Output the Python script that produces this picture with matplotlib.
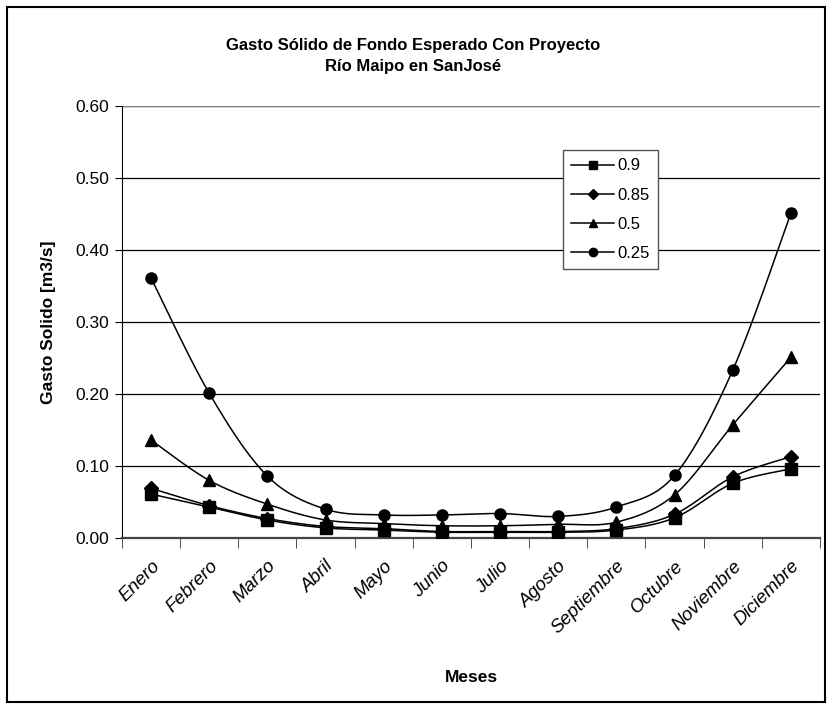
import numpy as np
import matplotlib
matplotlib.use("Agg")
import matplotlib.pyplot as plt
from matplotlib.patches import Rectangle
from matplotlib.lines import Line2D

plt.rcParams['font.family'] = ['Liberation Sans', 'DejaVu Sans']

months = ['Enero', 'Febrero', 'Marzo', 'Abril', 'Mayo', 'Junio', 'Julio',
          'Agosto', 'Septiembre', 'Octubre', 'Noviembre', 'Diciembre']

q090 = [0.061, 0.043, 0.025, 0.014, 0.011, 0.008, 0.008, 0.008, 0.011, 0.028, 0.076, 0.096]
q085 = [0.069, 0.045, 0.027, 0.016, 0.013, 0.009, 0.009, 0.009, 0.013, 0.033, 0.085, 0.113]
q050 = [0.136, 0.080, 0.047, 0.025, 0.020, 0.017, 0.017, 0.019, 0.022, 0.060, 0.157, 0.251]
q025 = [0.361, 0.201, 0.086, 0.040, 0.032, 0.032, 0.034, 0.030, 0.043, 0.087, 0.233, 0.451]

series = [('0.9', q090, 's'), ('0.85', q085, 'D'), ('0.5', q050, '^'), ('0.25', q025, 'o')]


def smooth(x, y, n=20):
    # catmull-rom style smoothing, like excel "smoothed line"
    x = np.asarray(x, float)
    y = np.asarray(y, float)
    xs, ys = [], []
    for i in range(len(x) - 1):
        p0 = (x[max(i - 1, 0)], y[max(i - 1, 0)])
        p1 = (x[i], y[i])
        p2 = (x[i + 1], y[i + 1])
        p3 = (x[min(i + 2, len(x) - 1)], y[min(i + 2, len(x) - 1)])
        t = np.linspace(0, 1, n, endpoint=False)
        for k in range(2):
            a, b, c, d = p0[k], p1[k], p2[k], p3[k]
            v = 0.5 * (2 * b + (-a + c) * t + (2 * a - 5 * b + 4 * c - d) * t**2
                       + (-a + 3 * b - 3 * c + d) * t**3)
            (xs if k == 0 else ys).append(v)
    xs.append([x[-1]])
    ys.append([y[-1]])
    return np.concatenate(xs), np.concatenate(ys)


fig = plt.figure(figsize=(8.27, 7.04), dpi=100)
ax = fig.add_axes([0.1475, 0.2358, 0.844, 0.6136])

x = np.arange(len(months))
handles = []
for name, vals, mk in series:
    sx, sy = smooth(x, vals)
    ax.plot(sx, sy, color='black', lw=1.1, zorder=3)
    ms = 7 if mk == 'D' else 8
    ax.plot(x, vals, ls='none', marker=mk, color='black', ms=ms, zorder=4)
    handles.append(Line2D([], [], color='black', lw=1.1, marker=mk,
                          ms=6 if mk != 'D' else 5.5, label=name))

ax.set_xlim(-0.5, len(months) - 0.5)
ax.set_ylim(0, 0.6)
ax.set_yticks(np.arange(0, 0.61, 0.1))
ax.set_yticklabels([f'{v:.2f}' for v in np.arange(0, 0.61, 0.1)], fontsize=12.5)
ax.set_xticks(x)
ax.set_xticklabels(months, rotation=45, ha='right', rotation_mode='anchor',
                   fontsize=13.5, style='italic')
ax.set_xticks(np.arange(-0.5, len(months)), minor=True)
ax.tick_params(axis='x', which='major', length=0, pad=14)
ax.tick_params(axis='x', which='minor', length=7, direction='out', color='#333333')
ax.tick_params(axis='y', length=5, direction='out', pad=4)

ax.yaxis.grid(True, color='black', lw=0.9)
ax.set_axisbelow(True)
for s in ['top', 'right']:
    ax.spines[s].set_visible(False)
ax.spines['left'].set_color('black')
ax.spines['bottom'].set_color('#444444')
ax.spines['bottom'].set_linewidth(1.6)
ax.axhline(0.6, color='#808080', lw=1.6, zorder=2)

ax.set_ylabel('Gasto Solido [m3/s]', fontsize=12.5, fontweight='bold', labelpad=14)
ax.set_xlabel('Meses', fontsize=12.5, fontweight='bold', labelpad=24)

fig.text(0.5, 0.936, 'Gasto Sólido de Fondo Esperado Con Proyecto', ha='center',
         va='center', fontsize=12, fontweight='bold')
fig.text(0.5, 0.905, 'Río Maipo en SanJosé', ha='center', va='center',
         fontsize=12, fontweight='bold')

leg = ax.legend(handles=handles, loc='upper left', bbox_to_anchor=(0.6315, 0.898),
                fontsize=12, frameon=True, fancybox=False, edgecolor='#555555',
                framealpha=1, handlelength=2.6, borderpad=0.5, labelspacing=0.85,
                handletextpad=0.2, borderaxespad=0)
leg.get_frame().set_linewidth(1.0)

fig.patches.append(Rectangle((0.009, 0.003), 0.988, 0.987, transform=fig.transFigure,
                             fill=False, edgecolor='black', lw=1.5))

fig.savefig('out.png', dpi=100)
